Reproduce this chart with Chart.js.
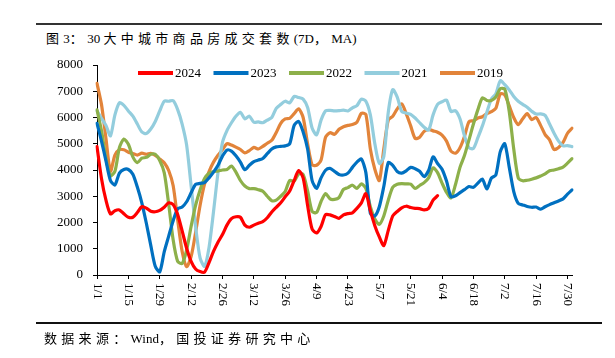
<!DOCTYPE html>
<html><head><meta charset="utf-8">
<script src="https://cdn.jsdelivr.net/npm/chart.js@4.4.1/dist/chart.umd.min.js"></script>
<style>
html,body{margin:0;padding:0;background:#fff;}
#wrap{position:relative;width:615px;height:358px;overflow:hidden;background:#fff;}
#c{position:absolute;left:0;top:0;width:615px;height:358px;}
.rule{position:absolute;left:36px;width:566px;height:2px;background:#333;}
.txt{position:absolute;font-family:"Liberation Serif","Noto Sans CJK SC",serif;font-size:13px;color:#000;white-space:nowrap;line-height:1;}
.c{font-family:"Noto Sans CJK SC",sans-serif;font-size:13px;letter-spacing:4.3px;}
</style></head>
<body><div id="wrap">
<div class="rule" style="top:23px"></div>
<div class="txt" id="title" style="left:46px;top:31px"><span class="c">图</span>3<span class="c">：</span>30 <span class="c">大中城市商品房成交套数</span>(7D<span class="c">，</span>MA)</div>
<canvas id="c" width="615" height="358"></canvas>
<div class="rule" style="top:322px;background:#111"></div>
<div class="txt" id="src" style="left:44px;top:331px"><span class="c">数据来源：</span>Wind<span class="c">，国投证券研究中心</span></div>
</div>
<script>
// categories: every second day, 1/1 .. 8/1
const categories = [
 "1/1","1/3","1/5","1/7","1/9","1/11","1/13","1/15","1/17","1/19","1/21","1/23","1/25","1/27","1/29","1/31",
 "2/2","2/4","2/6","2/8","2/10","2/12","2/14","2/16","2/18","2/20","2/22","2/24","2/26","2/28",
 "3/2","3/4","3/6","3/8","3/10","3/12","3/14","3/16","3/18","3/20","3/22","3/24","3/26","3/28","3/30",
 "4/1","4/3","4/5","4/7","4/9","4/11","4/13","4/15","4/17","4/19","4/21","4/23","4/25","4/27","4/29",
 "5/1","5/3","5/5","5/7","5/9","5/11","5/13","5/15","5/17","5/19","5/21","5/23","5/25","5/27","5/29","5/31",
 "6/2","6/4","6/6","6/8","6/10","6/12","6/14","6/16","6/18","6/20","6/22","6/24","6/26","6/28","6/30",
 "7/2","7/4","7/6","7/8","7/10","7/12","7/14","7/16","7/18","7/20","7/22","7/24","7/26","7/28","7/30",
 "8/1"
];
const tickLabels = ["1/1","1/15","1/29","2/12","2/26","3/12","3/26","4/9","4/23","5/7","5/21","6/4","6/18","7/2","7/16","7/30"];
const seriesNames = ["2024","2023","2022","2021","2019"];

const s2024 = [4890,3680,2850,2330,2450,2480,2330,2200,2200,2380,
 2600,2550,2430,2410,2460,2580,2750,2680,2300,1680,
 1020,520,230,130,110,470,900,1250,1540,1900,
 2150,2220,2200,1900,1820,1900,1970,2030,2180,2400,
 2580,2750,2980,3200,3600,3980,3700,2650,1750,1600,
 1850,2300,2290,2230,2160,2290,2340,2370,2540,2750,
 3100,2450,1880,1450,1120,1700,2250,2420,2560,2620,
 2570,2540,2530,2480,2540,2850,3020];
const s2023 = [5780,5100,4350,3600,3430,3880,4020,4020,3840,3350,
 2750,1980,1130,330,120,880,1480,2070,2520,2590,
 2790,3130,3450,3490,3520,3700,3920,4180,4530,4760,
 4720,4540,4300,4010,4180,4320,4380,4440,4620,4800,
 4880,4900,4920,5000,5700,5850,5450,4800,3600,3300,
 3700,3990,4060,3950,3830,3810,3880,4100,4300,4420,
 3900,2350,2250,2600,3370,4280,4180,3940,3880,3970,
 4100,4050,3950,3750,3980,4500,4250,4030,3580,2980,
 3020,3140,3250,3370,3340,3500,3650,3280,3690,3810,
 4700,5000,4100,3180,2730,2670,2610,2580,2590,2510,
 2600,2680,2750,2820,2900,3080,3240];
const s2022 = [6290,5500,4450,3780,3950,4850,5180,4980,4500,4280,
 4450,4480,4600,4600,4360,3900,2700,1330,520,440,
 950,1850,2650,3240,3680,3880,3940,3960,4000,4020,
 4150,3920,3600,3390,3290,3290,3250,3190,3000,2830,
 2850,3000,3180,3600,3580,3850,3830,3200,2420,2380,
 2800,3100,2900,2880,2950,3260,3330,3420,3300,3470,
 3300,2600,2130,1930,2250,2850,3340,3460,3480,3470,
 3460,3300,3410,3520,3700,4080,3900,3500,3150,2940,
 3450,4100,4550,5140,5750,6300,6750,6650,6650,6780,
 7100,7080,6220,4800,3700,3590,3610,3650,3700,3770,
 3850,3970,4000,4050,4110,4260,4430];
const s2021 = [6250,5970,5700,5300,6100,6560,6460,6250,6050,5750,
 5450,5390,5560,5850,6250,6620,6620,6640,6300,5750,
 4950,3400,1850,650,330,1050,2410,3900,5050,5500,
 5800,6050,6200,5950,6050,5820,5830,5800,5900,6000,
 6350,6500,6620,6560,6800,6760,6700,6380,5600,5340,
 5900,6250,6270,6250,6260,6280,6250,6370,6450,6700,
 6620,6100,5000,4250,4510,6200,7060,6780,6230,6170,
 6120,5980,5800,5630,5520,6100,6500,6600,6660,6230,
 6260,5950,5300,4850,4820,5230,5680,6200,6700,6900,
 7400,7250,7050,6800,6620,6500,6390,6240,6130,6140,
 6080,5750,5400,5100,4920,4930,4890];
const s2019 = [7300,6500,5200,3950,4570,4780,4770,4680,4630,4570,
 4640,4600,4630,4560,4420,4280,3980,3400,2100,900,
 320,700,1620,2650,3460,3940,4300,4560,4780,5000,
 4950,4870,4780,4650,4740,4860,4800,4900,5020,5130,
 5430,5780,5950,5970,6150,6330,6000,5000,4200,4180,
 4380,5250,5420,5360,5550,5650,5700,5730,5820,6160,
 6120,4800,4030,3600,4800,5900,6050,6330,6520,6150,
 5680,5200,5250,5470,5550,5490,5440,5330,5100,4720,
 4640,4850,5280,5840,5880,5980,6030,6150,6220,6350,
 6900,6860,6440,6000,5730,5950,6150,5920,6000,5700,
 5350,5150,4780,4860,5050,5400,5590];
const yTicks = [0,1000,2000,3000,4000,5000,6000,7000,8000];

const colors = ["#FF0000","#0070C0","#8DB04A","#93CDDD","#E2843A"];
const allSeries = [s2024,s2023,s2022,s2021,s2019];
const SERIF = '"Liberation Serif","Times New Roman",serif';

const overlay = {
  id:'overlay',
  afterDraw(chart){
    const ctx = chart.ctx, xs = chart.scales.x, ca = chart.chartArea;
    ctx.save();
    ctx.fillStyle = '#000';
    ctx.font = '13px ' + SERIF;
    ctx.textAlign = 'left';
    ctx.textBaseline = 'middle';
    tickLabels.forEach(lab => {
      const i = categories.indexOf(lab);
      const x = xs.getPixelForValue(i);
      ctx.save();
      ctx.translate(x, ca.bottom + 8);
      ctx.rotate(Math.PI/2);
      ctx.fillText(lab, 0, 0);
      ctx.restore();
    });
    // legend inside plot area
    const ly = ca.top + 8;
    chart.data.datasets.forEach((ds, k) => {
      const x0 = 138 + k * 75.5;
      ctx.strokeStyle = ds.borderColor;
      ctx.lineWidth = 4;
      ctx.lineCap = 'butt';
      ctx.beginPath();
      ctx.moveTo(x0, ly);
      ctx.lineTo(x0 + 35, ly);
      ctx.stroke();
      ctx.fillStyle = '#000';
      ctx.fillText(ds.label, x0 + 37, ly + 1);
    });
    ctx.restore();
  }
};

new Chart(document.getElementById('c'), {
  type: 'line',
  data: {
    labels: categories,
    datasets: seriesNames.map((n, k) => ({
      label: n,
      data: allSeries[k],
      borderColor: colors[k],
      backgroundColor: colors[k],
      borderWidth: 3.2,
      pointRadius: 0,
      tension: 0.25,
      borderJoinStyle: 'round',
      borderCapStyle: 'round',
      fill: false,
      spanGaps: false
    }))
  },
  options: {
    responsive: false,
    animation: false,
    devicePixelRatio: 1,
    layout: { padding: { left: 0, right: 43, top: 65, bottom: 0 } },
    plugins: { legend: { display: false }, tooltip: { enabled: false }, title: { display: false } },
    scales: {
      x: {
        type: 'category',
        offset: false,
        grid: { drawOnChartArea: false, drawTicks: true, tickLength: 4, color: '#000', lineWidth: 1 },
        border: { display: true, color: '#000', width: 1 },
        ticks: {
          autoSkip: false, maxRotation: 90, minRotation: 90,
          color: 'rgba(0,0,0,0)', font: { family: SERIF, size: 13 },
          callback: (v, i) => (tickLabels.includes(categories[i]) ? categories[i] : null)
        },
        afterFit(s) { s.height = 83; }
      },
      y: {
        min: 0, max: 8000,
        afterBuildTicks(s) { s.ticks = yTicks.map(v => ({ value: v })); },
        ticks: { color: '#000', font: { family: SERIF, size: 13 }, padding: 10, callback: v => String(v) },
        grid: { drawOnChartArea: false, drawTicks: true, tickLength: 4, color: '#000', lineWidth: 1 },
        border: { display: true, color: '#000', width: 1 },
        afterFit(s) { s.width = 97; }
      }
    }
  },
  plugins: [overlay]
});
</script>
</body></html>
